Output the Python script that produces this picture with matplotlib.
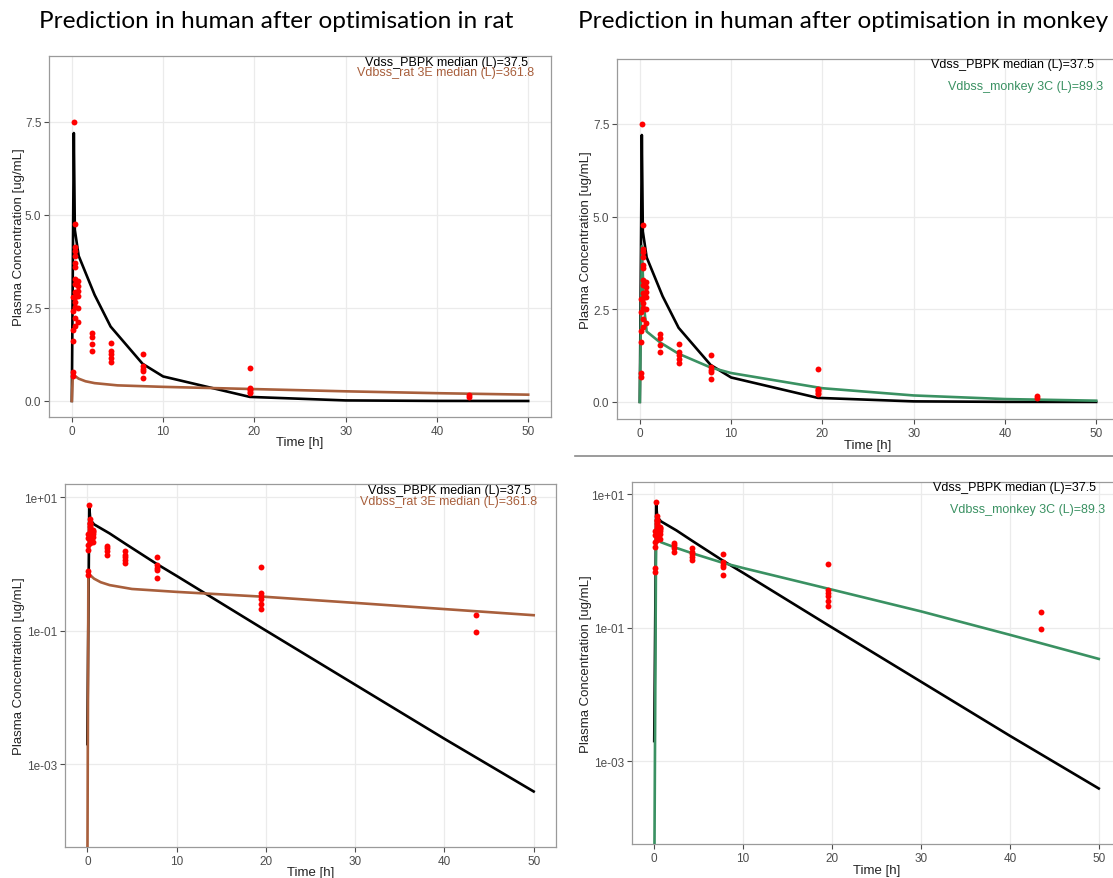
import numpy as np
import matplotlib.pyplot as plt
from matplotlib.ticker import FixedLocator

# observed human plasma concentrations (same in all four panels)
obs_time = [0.083, 0.083, 0.083, 0.083, 0.083, 0.083,
            0.22,
            0.3, 0.3, 0.3, 0.3, 0.3, 0.3, 0.3, 0.3, 0.3, 0.3, 0.3, 0.3, 0.3, 0.3,
            0.65, 0.65, 0.65, 0.65, 0.65, 0.65,
            2.25, 2.25, 2.25, 2.25,
            4.25, 4.25, 4.25, 4.25, 4.25,
            7.75, 7.75, 7.75, 7.75, 7.75,
            19.5, 19.5, 19.5, 19.5, 19.5, 19.5,
            43.5, 43.5]
obs_conc = [2.79, 2.42, 1.91, 1.61, 0.78, 0.68,
            7.5,
            4.76, 4.13, 4.04, 3.9, 3.7, 3.6, 3.28, 3.15, 2.93, 2.8, 2.66, 2.53, 2.23, 2.02,
            3.23, 3.1, 2.96, 2.83, 2.5, 2.13,
            1.82, 1.73, 1.53, 1.35,
            1.55, 1.35, 1.26, 1.15, 1.04,
            1.26, 0.95, 0.86, 0.81, 0.61,
            0.9, 0.36, 0.33, 0.3, 0.25, 0.21,
            0.17, 0.095]

# PBPK prediction (Vdss_PBPK median)
pbpk_time = [0.0, 0.22, 0.33, 0.75, 2.5, 4.25, 7.75, 10, 19.5, 30, 40, 50]
pbpk_conc = [0.002, 7.2, 4.6, 3.9, 2.85, 2.0, 1.0, 0.66, 0.11, 0.0155, 0.0024, 0.00039]

# prediction after optimisation in rat
rat_time = [0.0, 0.12, 0.3, 0.75, 1.5, 2.5, 5, 10, 20, 30, 40, 50]
rat_conc = [1e-5, 0.8, 0.68, 0.6, 0.53, 0.48, 0.42, 0.38, 0.32, 0.26, 0.21, 0.17]

# prediction after optimisation in monkey
monkey_time = [0.0, 0.22, 0.45, 0.75, 2.25, 4.25, 7.75, 10, 20, 30, 40, 50]
monkey_conc = [1e-5, 4.2, 2.6, 1.9, 1.6, 1.3, 0.93, 0.78, 0.37, 0.175, 0.078, 0.034]

titles = ["Prediction in human after optimisation in rat",
          "Prediction in human after optimisation in monkey"]
pbpk_label = "Vdss_PBPK median (L)=37.5"
rat_label = "Vdbss_rat 3E median (L)=361.8"
monkey_label = "Vdbss_monkey 3C (L)=89.3"

BROWN = "#A85F3C"
GREEN = "#3A9162"
RED = "#FF0000"

W, H = 1113, 879
plt.rcParams["font.family"] = ["Liberation Sans", "DejaVu Sans"]

fig = plt.figure(figsize=(W / 100, H / 100), dpi=100)


def px_axes(x0, y0, x1, y1):
    # pixel box (left, top, right, bottom) -> axes
    return fig.add_axes([x0 / W, 1 - y1 / H, (x1 - x0) / W, (y1 - y0) / H])


def style(ax, log=False):
    ax.set_facecolor("white")
    for s in ax.spines.values():
        s.set_color("#9a9a9a")
        s.set_linewidth(0.9)
    ax.grid(True, color="#EBEBEB", linewidth=0.9)
    ax.set_axisbelow(True)
    ax.tick_params(colors="#4D4D4D", labelsize=8.5, length=3.5, width=0.8, pad=2)
    ax.set_xlim(-2.5, 52.5)
    ax.set_xticks([0, 10, 20, 30, 40, 50])
    if log:
        ax.set_yscale("log")
        ax.yaxis.set_major_locator(FixedLocator([1e-3, 1e-1, 1e1]))
        ax.yaxis.set_minor_locator(FixedLocator([]))
        ax.set_yticklabels(["1e-03", "1e-01", "1e+01"])
    else:
        ax.set_yticks([0, 2.5, 5.0, 7.5])
        ax.set_yticklabels(["0.0", "2.5", "5.0", "7.5"])


def draw(ax, t2, c2, col, log):
    ax.plot(pbpk_time, pbpk_conc, color="black", lw=1.9, zorder=3)
    ax.plot(t2, c2, color=col, lw=1.9, zorder=4)
    ax.scatter(obs_time, obs_conc, s=18, color=RED, linewidths=0, zorder=5)
    style(ax, log)
    ax.set_xlabel("Time [h]", fontsize=9.5, color="#222222")
    ax.set_ylabel("Plasma Concentration [ug/mL]", fontsize=9.5, color="#222222")


panels = [
    # box in px, second series, colour, log, ylim, xlabel y px, ylabel x px
    ((49, 57, 551, 418), rat_time, rat_conc, BROWN, False, (-0.43, 9.27), 443, 19),
    ((617, 60, 1119, 420), monkey_time, monkey_conc, GREEN, False, (-0.46, 9.25), 446, 586),
    ((65, 485, 556, 848), rat_time, rat_conc, BROWN, True, (10 ** -4.24, 10 ** 1.195), 873, 19),
    ((632, 483, 1121, 845), monkey_time, monkey_conc, GREEN, True, (10 ** -4.24, 10 ** 1.18), 871, 586),
]

for box, t2, c2, col, log, ylim, xl_y, yl_x in panels:
    ax = px_axes(*box)
    draw(ax, t2, c2, col, log)
    ax.set_ylim(*ylim)
    x0, y0, x1, y1 = box
    ax.xaxis.set_label_coords(0.5, (y1 - xl_y) / (y1 - y0))
    ax.xaxis.label.set_va("center")
    ax.yaxis.set_label_coords((yl_x - x0) / (x1 - x0), 0.5)
    ax.yaxis.label.set_va("center")

# annotations (right aligned, top of each panel)
notes = [
    (528, 63, pbpk_label, "black"), (534, 73, rat_label, BROWN),
    (1094, 65, pbpk_label, "black"), (1103, 87, monkey_label, GREEN),
    (531, 491, pbpk_label, "black"), (537, 502, rat_label, BROWN),
    (1096, 488, pbpk_label, "black"), (1105, 510, monkey_label, GREEN),
]
for x, y, s, c in notes:
    fig.text(x / W, 1 - y / H, s, ha="right", va="center", fontsize=9, color=c)

fig.text(276 / W, 1 - 21 / H, titles[0], ha="center", va="center", fontsize=17.6,
         family=["Lato", "DejaVu Sans"])
fig.text(843 / W, 1 - 21 / H, titles[1], ha="center", va="center", fontsize=17.6,
         family=["Lato", "DejaVu Sans"])

# separator line between the pasted screenshots
fig.add_artist(plt.Line2D([575 / W, 1.0], [1 - 457 / H, 1 - 457 / H], color="#8a8a8a", lw=1.2))

fig.savefig("out.png", dpi=100)
